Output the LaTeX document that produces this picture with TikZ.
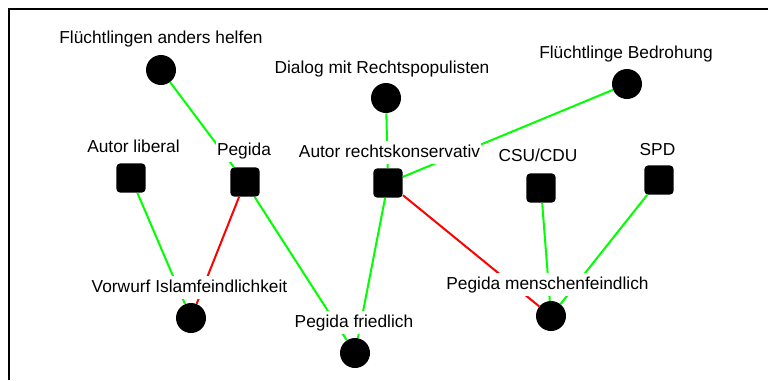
\documentclass[tikz,border=0pt]{standalone}
\usepackage{fontspec}
\setmainfont{Liberation Sans}
\usepackage{xcolor}
\usepackage{tikz}
\usetikzlibrary{positioning}
\definecolor{progreen}{RGB}{0,255,0}
\definecolor{conred}{RGB}{255,0,0}

\begin{document}
\begin{tikzpicture}[
    x=0.75pt, y=-0.75pt,
    cnode/.style={circle, fill=black, minimum size=22.5pt, inner sep=0pt},
    snode/.style={rectangle, rounded corners=3pt, fill=black, minimum size=22pt, inner sep=0pt},
    lbl/.style={fill=white, inner xsep=1pt, inner ysep=2.6pt, text height=9.3pt, text depth=2.7pt,
      font=\fontsize{13}{15}\selectfont},
    pro/.style={draw=progreen, line width=1.5pt},
    con/.style={draw=conred, line width=1.5pt}
  ]
  \useasboundingbox (0,0) rectangle (768,380);

  % Rahmen
  \draw[line width=1.5pt] (9,380) -- (9,9) -- (768,9);

  % Knoten
  \node[cnode] (fah) at (161,70) {};
  \node[cnode] (dialog) at (386,98) {};
  \node[cnode] (fbed) at (627,84) {};

  \node[snode] (lib) at (131,178) {};
  \node[snode] (peg) at (245,182) {};
  \node[snode] (rk) at (388,183) {};
  \node[snode] (csu) at (541,188) {};
  \node[snode] (spd) at (659,180) {};

  \node[cnode] (islam) at (191,318) {};
  \node[cnode] (fried) at (355,353) {};
  \node[cnode] (mfeind) at (551,316) {};

  % Kanten
  \draw[pro] (fah) -- (peg);
  \draw[pro] (dialog) -- (rk);
  \draw[pro] (fbed) -- (rk);

  \draw[pro] (lib) -- (islam);
  \draw[con] (peg) -- (islam);
  \draw[pro] (peg) -- (fried);
  \draw[pro] (rk) -- (fried);
  \draw[con] (rk) -- (mfeind);
  \draw[pro] (csu) -- (mfeind);
  \draw[pro] (spd) -- (mfeind);

  % Beschriftungen
  \node[lbl] (fahl) at (161,38.6) {Flüchtlingen anders helfen};
  \node[lbl] (dialogl) at (382,68.6) {Dialog mit Rechtspopulisten};
  \node[lbl] (fbedl) at (626,53.6) {Flüchtlinge Bedrohung};
  \node[lbl] (libl) at (133.5,147.6) {Autor liberal};
  \node[lbl] (pegl) at (244,150.6) {Pegida};
  \node[lbl] (rkl) at (389.5,152.6) {Autor rechtskonservativ};
  \node[lbl] (csul) at (538,156.6) {CSU/CDU};
  \node[lbl] (spdl) at (657.5,150.6) {SPD};
  \node[lbl] (islaml) at (189.5,287.6) {Vorwurf Islamfeindlichkeit};
  \node[lbl] (friedl) at (354,322.6) {Pegida friedlich};
  \node[lbl] (mfeindl) at (547.5,284.6) {Pegida menschenfeindlich};
\end{tikzpicture}
\end{document}
